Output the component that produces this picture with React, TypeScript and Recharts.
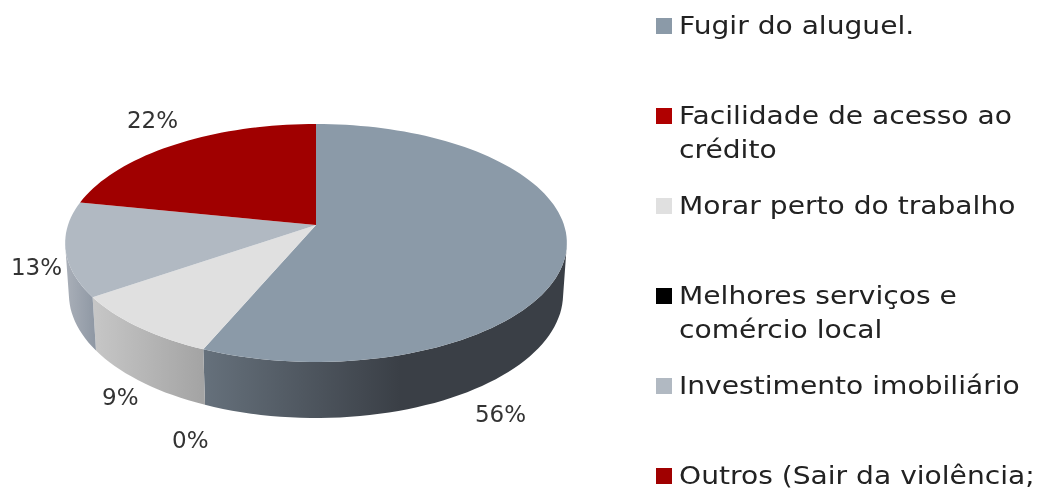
import { Legend, Pie, PieChart } from 'recharts';

// reasons, in legend order
const categories = [
  'Fugir do aluguel.',
  'Facilidade de acesso ao crédito',
  'Morar perto do trabalho',
  'Melhores serviços e comércio local',
  'Investimento imobiliário',
  'Outros (Sair da violência;',
];
// they round to the printed labels
const shares = [56.4, 0, 9, 0, 12.8, 21.8];
const shownLabels = ['56%', '0%', '9%', '', '13%', '22%'];

const topColors = ['#8b9aa8', '#b00000', '#e0e0e0', '#000000', '#b1b9c2', '#a00000'];
const wallStops = [
  ['#66717c', '#3a3f46'],
  ['#800000', '#600000'],
  ['#c6c6c6', '#a4a4a4'],
  ['#000000', '#000000'],
  ['#8f98a4', '#a9afb8'],
  ['#700000', '#500000'],
];
// label offset from the rim point at the slice middle
const labelOffsets = [
  [-66, 165],
  [-13, 91],
  [-18, 70],
  [0, 0],
  [-29, 18],
  [-23, -24],
];

const tableData = categories.map((name, i) => ({ name, value: shares[i], fill: topColors[i] }));

// 3D look: flat disc seen in perspective
const PERSPECTIVE = 0.151;
const SQUASH = 116.3 / 248;
const RAD = Math.PI / 180;

function rim(cx: number, cy: number, r: number, angle: number) {
  // recharts angle (ccw from east) to clockwise angle from the top
  const t = (90 - angle) * RAD;
  const u = Math.sin(t);
  const v = -Math.cos(t);
  const d = 1 - PERSPECTIVE * v;
  return { x: cx + (r * u) / d, y: cy + (r * SQUASH * v) / d, v };
}

function sliceShape(props: any) {
  const { cx, cy, outerRadius, startAngle, endAngle, fill, name } = props;
  const idx = categories.indexOf(name);
  if (Math.abs(endAngle - startAngle) < 0.01) return <g />;

  const steps = Math.max(2, Math.ceil(Math.abs(endAngle - startAngle) / 2));
  const arc = [];
  for (let i = 0; i <= steps; i++) {
    arc.push(rim(cx, cy, outerRadius, startAngle + ((endAngle - startAngle) * i) / steps));
  }
  const top =
    `M${cx},${cy} ` + arc.map((p) => `L${p.x.toFixed(1)},${p.y.toFixed(1)}`).join(' ') + ' Z';

  const front = arc.filter((p) => p.v >= PERSPECTIVE);
  let wall = '';
  if (front.length > 1) {
    const upper = front.map((p) => `${p.x.toFixed(1)},${p.y.toFixed(1)}`);
    const lower = front
      .map((p) => {
        const x = cx + (p.x - cx) * 0.985;
        const y = p.y + 50 + 6 * p.v;
        return `${x.toFixed(1)},${y.toFixed(1)}`;
      })
      .reverse();
    wall = 'M' + upper.concat(lower).join(' L') + ' Z';
  }

  return (
    <g>
      {wall && <path d={wall} fill={`url(#wall-${idx})`} />}
      <path d={top} fill={fill} />
    </g>
  );
}

function sliceLabel(props: any) {
  const { cx, cy, outerRadius, midAngle, index } = props;
  const text = shownLabels[index];
  if (!text) return null;
  const p = rim(cx, cy, outerRadius, midAngle);
  const [dx, dy] = labelOffsets[index];
  return (
    <text
      x={p.x + dx}
      y={p.y + dy}
      textAnchor="middle"
      dominantBaseline="central"
      fill="#333"
      fontSize={23}
      fontFamily="DejaVu Sans"
    >
      {text}
    </text>
  );
}

function legendContent(props: any) {
  const { payload = [] } = props;
  return (
    <div style={{ position: 'relative', width: 385, height: 495 }}>
      {payload.map((entry: any, i: number) => (
        <div
          key={entry.value}
          style={{
            position: 'absolute',
            top: 9 + i * 90,
            left: 0,
            display: 'flex',
            fontFamily: 'DejaVu Sans',
            fontSize: 25,
            lineHeight: '34px',
            color: '#222',
            whiteSpace: 'normal',
          }}
        >
          <span
            style={{
              width: 16,
              height: 16,
              marginTop: 9,
              marginRight: 7,
              flex: 'none',
              background: topColors[i],
            }}
          />
          {/* reference text is a horizontally stretched Verdana */}
          <span style={{ width: 322, transform: 'scaleX(1.125)', transformOrigin: 'left' }}>
            {entry.value}
          </span>
        </div>
      ))}
    </div>
  );
}

export default function App() {
  return (
    <div
      style={{
        position: 'absolute',
        left: 0,
        top: 0,
        width: 1041,
        height: 495,
        overflow: 'hidden',
        filter: 'blur(0.4px)', // the source picture is a soft upscale
      }}
    >
      <PieChart width={1041} height={495} margin={{ top: 0, right: 0, bottom: 0, left: 0 }}>
        <defs>
          {wallStops.map((stops, i) => {
            // the big slate wall fades out by x=400 then stays dark
            const span = i === 0 ? [202, 400] : i === 4 ? [66, 95] : [95, 202];
            return (
              <linearGradient
                key={i}
                id={`wall-${i}`}
                gradientUnits="userSpaceOnUse"
                x1={i === 4 ? span[1] : span[0]}
                x2={i === 4 ? span[0] : span[1]}
                y1={0}
                y2={0}
              >
                <stop offset="0" stopColor={stops[0]} />
                <stop offset="1" stopColor={stops[1]} />
              </linearGradient>
            );
          })}
        </defs>
        <Pie
          data={tableData}
          dataKey="value"
          nameKey="name"
          cx={316}
          cy={225}
          outerRadius={248}
          startAngle={90}
          endAngle={-270}
          stroke="none"
          shape={sliceShape}
          label={sliceLabel}
          labelLine={false}
          isAnimationActive={false}
        />
        <Legend
          content={legendContent}
          itemSorter={null}
          wrapperStyle={{ position: 'absolute', left: 656, top: 0, width: 385, height: 495 }}
        />
      </PieChart>
    </div>
  );
}
